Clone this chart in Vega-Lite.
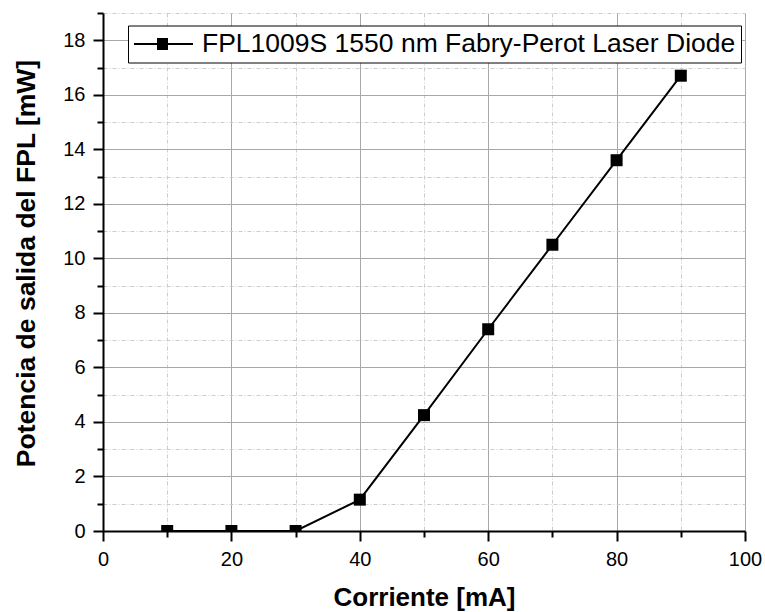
{
  "$schema": "https://vega.github.io/schema/vega-lite/v6.json",
  "width": 642,
  "height": 518,
  "autosize": {"type": "none"},
  "padding": {"left": 103, "top": 13, "right": 20, "bottom": 81},
  "background": "white",
  "config": {"view": {"stroke": null}, "font": "Liberation Sans"},
  "data": {"values": [
    {"corriente": 10, "potencia": 0, "serie": "FPL1009S 1550 nm Fabry-Perot Laser Diode"},
    {"corriente": 20, "potencia": 0, "serie": "FPL1009S 1550 nm Fabry-Perot Laser Diode"},
    {"corriente": 30, "potencia": 0, "serie": "FPL1009S 1550 nm Fabry-Perot Laser Diode"},
    {"corriente": 40, "potencia": 1.15, "serie": "FPL1009S 1550 nm Fabry-Perot Laser Diode"},
    {"corriente": 50, "potencia": 4.25, "serie": "FPL1009S 1550 nm Fabry-Perot Laser Diode"},
    {"corriente": 60, "potencia": 7.4, "serie": "FPL1009S 1550 nm Fabry-Perot Laser Diode"},
    {"corriente": 70, "potencia": 10.5, "serie": "FPL1009S 1550 nm Fabry-Perot Laser Diode"},
    {"corriente": 80, "potencia": 13.6, "serie": "FPL1009S 1550 nm Fabry-Perot Laser Diode"},
    {"corriente": 90, "potencia": 16.7, "serie": "FPL1009S 1550 nm Fabry-Perot Laser Diode"}
  ]},
  "layer": [
    {
      "mark": {"type": "line", "clip": true, "strokeWidth": 2, "color": "black"},
      "encoding": {
        "x": {"field": "corriente", "type": "quantitative",
          "scale": {"domain": [0, 100], "nice": false, "zero": false},
          "axis": {"orient": "bottom", "values": [0, 20, 40, 60, 80, 100], "grid": true, "gridColor": "#a8a8a8", "gridWidth": 1,
            "domainColor": "black", "domainWidth": 2, "tickColor": "black", "tickWidth": 2, "tickSize": 10,
            "labelFontSize": 20, "labelPadding": 8, "labelColor": "black", "labelFlush": false, "labelFont": "Liberation Sans",
            "title": "Corriente [mA]", "titleFontSize": 26, "titleFontWeight": "bold", "titleColor": "black", "titleFont": "Liberation Sans", "titlePadding": 15}},
        "y": {"field": "potencia", "type": "quantitative",
          "scale": {"domain": [0, 19], "nice": false, "zero": false},
          "axis": {"orient": "left", "values": [0, 2, 4, 6, 8, 10, 12, 14, 16, 18], "grid": true, "gridColor": "#a8a8a8", "gridWidth": 1,
            "domainColor": "black", "domainWidth": 2, "tickColor": "black", "tickWidth": 2, "tickSize": 10,
            "labelFontSize": 20, "labelPadding": 8, "labelColor": "black", "labelFlush": false, "labelFont": "Liberation Sans",
            "title": "Potencia de salida del FPL [mW]", "titleFontSize": 26.5, "titleFontWeight": "bold", "titleColor": "black", "titleFont": "Liberation Sans", "titlePadding": 22, "titleY": 250}},
        "color": {"field": "serie", "type": "nominal", "scale": {"range": ["black"]},
          "legend": {"orient": "none", "legendX": 25, "legendY": 12.5, "title": null,
            "symbolType": "M-1,0H0.92M1.64,0H3.72M0.92,-0.4H1.64V0.4H0.92Z", "symbolSize": 625,
            "symbolStrokeWidth": 2, "symbolStrokeColor": "black", "symbolFillColor": "black",
            "labelFontSize": 26.5, "labelFont": "Liberation Sans", "labelColor": "black", "labelOffset": 42, "labelLimit": 0,
            "padding": 5, "strokeColor": "black", "fillColor": "white",
            "encode": {"symbols": {"update": {"fill": {"value": "black"}, "stroke": {"value": "black"}, "strokeWidth": {"value": 2}}}}}}
      }
    },
    {
      "mark": {"type": "square", "size": 144, "filled": true, "opacity": 1, "color": "black", "clip": true},
      "encoding": {
        "x": {"field": "corriente", "type": "quantitative",
          "axis": {"orient": "bottom", "values": [10, 30, 50, 70, 90], "grid": true, "gridColor": "#cccccc", "gridWidth": 1, "gridDash": [4, 2, 1, 2],
            "domain": false, "labels": false, "tickColor": "black", "tickWidth": 2, "tickSize": 6, "title": null}},
        "y": {"field": "potencia", "type": "quantitative",
          "axis": {"orient": "left", "values": [1, 3, 5, 7, 9, 11, 13, 15, 17, 19], "grid": true, "gridColor": "#cccccc", "gridWidth": 1, "gridDash": [4, 2, 1, 2],
            "domain": false, "labels": false, "tickColor": "black", "tickWidth": 2, "tickSize": 6, "title": null}}
      }
    }
  ],
  "resolve": {"axis": {"x": "independent", "y": "independent"}}
}
